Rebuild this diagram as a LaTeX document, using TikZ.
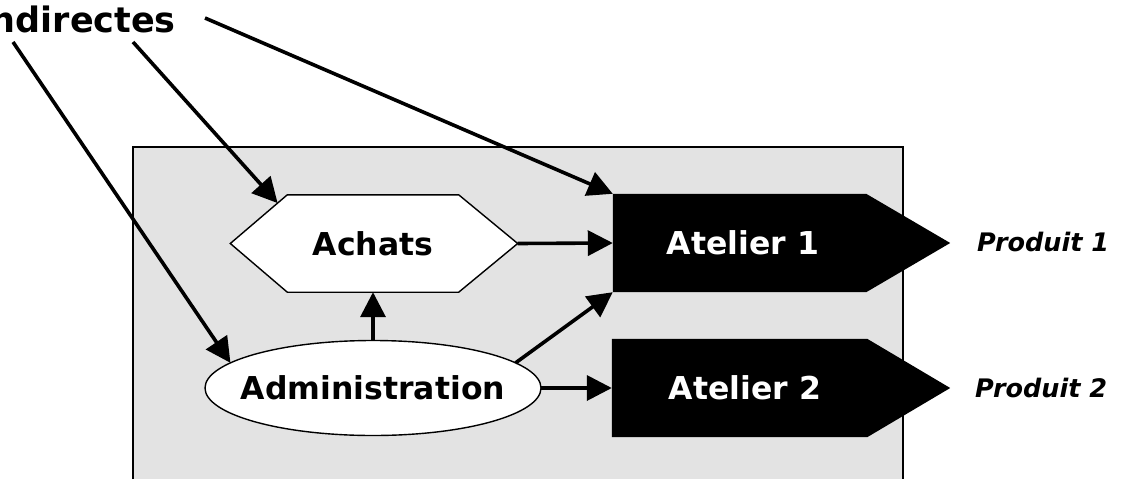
\documentclass[tikz,border=0pt]{standalone}
\usepackage{fontspec}
\setmainfont{DejaVu Sans}
\usetikzlibrary{arrows.meta,calc,shapes.geometric}
\definecolor{bggray}{gray}{0.89}
\begin{document}
\begin{tikzpicture}[x=1pt,y=-1pt,
  conn/.style={line width=3.6pt,-{Triangle[length=25pt,width=25pt]}},
  lbl/.style={font=\fontsize{31.5}{36}\selectfont\bfseries,inner sep=0pt},
  prod/.style={font=\fontsize{25.5}{30}\selectfont\bfseries\itshape,inner sep=0pt,anchor=west},
  shapeline/.style={line width=1.4pt}]
\useasboundingbox (0,0) rectangle (1121,479);
% textured background panel
\fill[bggray] (133,147) rectangle (903,479);
\draw[line width=1.8pt] (133,479) -- (133,147) -- (903,147) -- (903,479);
% title text (cut at the left edge, as in the reference)
\node[font=\fontsize{35}{40}\selectfont\bfseries,inner sep=0pt,anchor=base east] (ind) at (176,32) {ndirectes};
% Achats hexagon
\node[lbl,minimum width=171pt,minimum height=97pt] (ach) at (373,243.5) {};
\coordinate (achL) at ($(ach.west)+(-57,0)$);
\coordinate (achR) at ($(ach.east)+(59,0)$);
\filldraw[shapeline,fill=white] (ach.north west) -- (ach.north east) -- (achR) -- (ach.south east) -- (ach.south west) -- (achL) -- cycle;
\node[lbl] at (ach.center) {Achats};
% Administration ellipse
\node[ellipse,draw,shapeline,fill=white,inner sep=0pt,outer sep=0pt,minimum width=336pt,minimum height=95pt] (adm) at (373,388) {};
\node[lbl] at (adm.center) {Administration};
% Atelier 1
\node[lbl,minimum width=253pt,minimum height=98pt] (a1) at (739.5,243) {};
\fill (a1.north west) -- (a1.north east) -- ($(a1.east)+(84,0)$) -- (a1.south east) -- (a1.south west) -- cycle;
\node[lbl,text=white] at (743,243) {Atelier 1};
% Atelier 2
\node[lbl,minimum width=255pt,minimum height=98pt] (a2) at (739.5,388) {};
\fill (a2.north west) -- (a2.north east) -- ($(a2.east)+(83,0)$) -- (a2.south east) -- (a2.south west) -- cycle;
\node[lbl,text=white] at (745,388) {Atelier 2};
% products
\node[prod] (p1) at (977,242) {Produit 1};
\node[prod] (p2) at (975,388) {Produit 2};
% connectors
\coordinate (s1) at (205,18);
\coordinate (s2) at (133,42);
\coordinate (s3) at (13,42);
\coordinate (achUL) at ($(ach.north west)!0.17!(achL)$);
\draw[conn] (s1) -- (a1.north west);
\draw[conn] (s2) -- (achUL);
\draw[conn] (s3) -- (adm.170);
\draw[conn] (achR) -- (a1.west);
\draw[conn] (adm.north) -- (ach.south);
\draw[conn] (adm.10) -- (a1.south west);
\draw[conn] (adm.east) -- (a2.west);
\end{tikzpicture}
\end{document}
